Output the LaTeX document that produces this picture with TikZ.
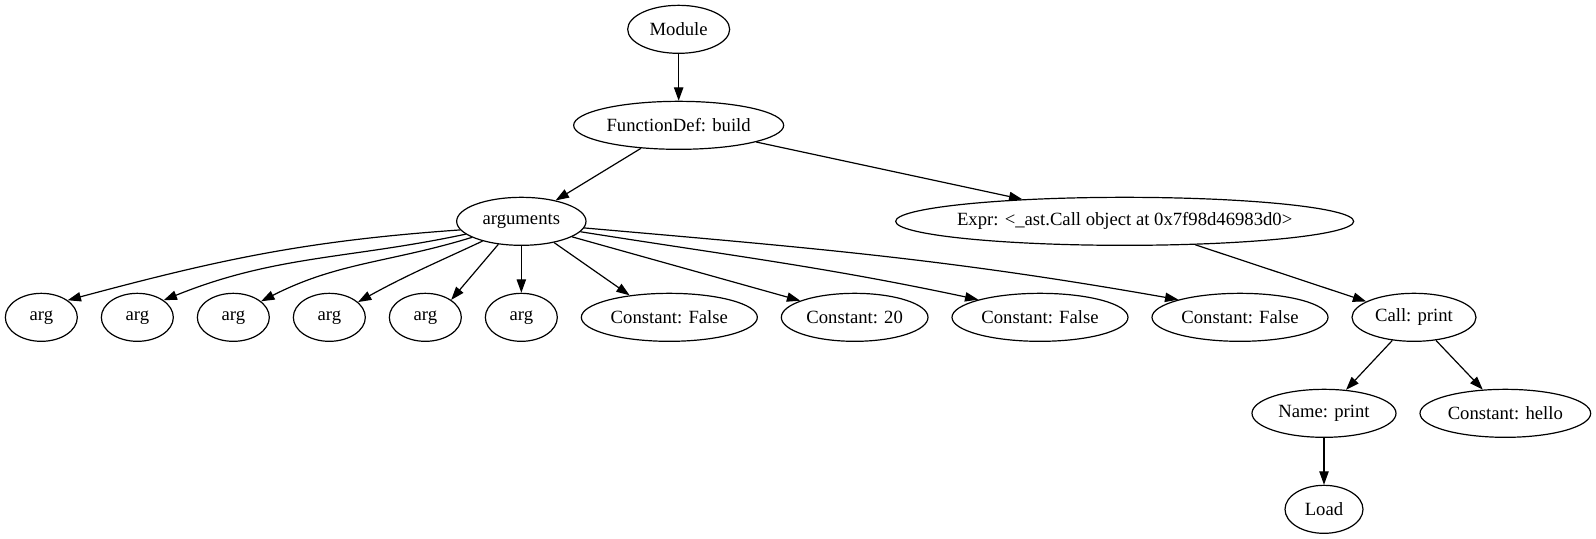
\documentclass[tikz,border=0pt]{standalone}
\usepackage{fontspec}
\setmainfont{Liberation Serif}
\usetikzlibrary{shapes.geometric,arrows.meta}
\tikzset{
  gnode/.style={draw, ellipse, line width=0.9pt, minimum height=36pt, inner sep=0pt, font=\fontsize{14}{16.8}\selectfont},
  gedge/.style={line width=0.9pt, -{Triangle[length=10pt,width=7pt]}}
}
\newcommand\gvnode[4]{\node[gnode, minimum width=#3] (#1) at #2 {\makebox[0pt]{#4}};}
\begin{document}
\begin{tikzpicture}[x=1pt,y=1pt]
\useasboundingbox (0,0) rectangle (1197,404.25);
\gvnode{module}{(509,382.25)}{76.5pt}{Module}
\gvnode{fdef}{(509,310.25)}{157.5pt}{FunctionDef: build}
\gvnode{args}{(391,238.25)}{97pt}{arguments}
\gvnode{expr}{(843.5,238.25)}{343.5pt}{Expr: <\_ast.Call object at 0x7f98d46983d0>}
\gvnode{a1}{(31,166.25)}{54pt}{arg}
\gvnode{a2}{(103,166.25)}{54pt}{arg}
\gvnode{a3}{(175,166.25)}{54pt}{arg}
\gvnode{a4}{(247,166.25)}{54pt}{arg}
\gvnode{a5}{(319,166.25)}{54pt}{arg}
\gvnode{a6}{(391,166.25)}{54pt}{arg}
\gvnode{cf1}{(502,166.25)}{132pt}{Constant: False}
\gvnode{c20}{(641,166.25)}{110pt}{Constant: 20}
\gvnode{cf2}{(780,166.25)}{132pt}{Constant: False}
\gvnode{cf3}{(930,166.25)}{132pt}{Constant: False}
\gvnode{call}{(1060.5,166.25)}{93pt}{Call: print}
\gvnode{name}{(993,94.25)}{108pt}{Name: print}
\gvnode{hello}{(1129,94.25)}{128pt}{Constant: hello}
\gvnode{load}{(993,22.25)}{58.5pt}{Load}

\draw[gedge] (module) -- (fdef);
\draw[gedge] (fdef) -- (args);
\draw[gedge] (fdef) -- (expr);
\draw[gedge] (args.188) to[out=184,in=15] (a1.33);
\draw[gedge] (args.193) to[out=192,in=22] (a2.33);
\draw[gedge] (args.198) to[out=197,in=27] (a3.30);
\draw[gedge] (args.207) to[out=205,in=29] (a4.28);
\draw[gedge] (args.225) -- (a5.34);
\draw[gedge] (args) -- (a6);
\draw[gedge] (args.-33) -- (cf1.151);
\draw[gedge] (args.-17) -- (c20.163);
\draw[gedge] (args.-10.5) to[out=-9,in=168] (cf2.164);
\draw[gedge] (args.-6.5) to[out=-5,in=170] (cf3.164);
\draw[gedge] (expr) -- (call);
\draw[gedge] (call) -- (name);
\draw[gedge] (call) -- (hello);
\draw[gedge] (name) -- (load);
\end{tikzpicture}
\end{document}
